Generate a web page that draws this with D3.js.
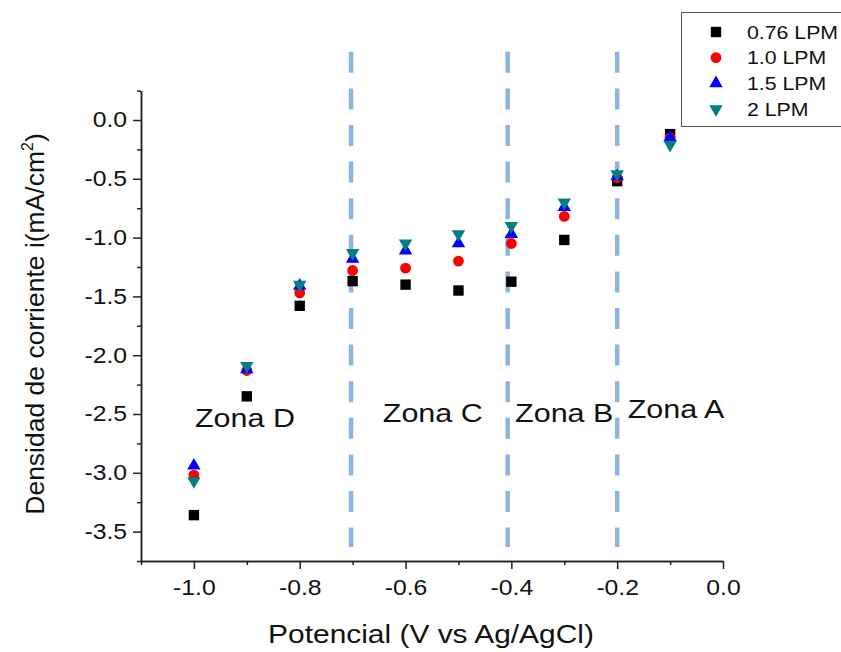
<!DOCTYPE html>
<html>
<head>
<meta charset="utf-8">
<script src="https://cdn.jsdelivr.net/npm/d3@7/dist/d3.min.js"></script>
<style>
  html, body { margin: 0; padding: 0; background: #fff; }
  svg { display: block; font-family: "Liberation Sans", Arial, sans-serif; }
</style>
</head>
<body>
<svg id="chart" width="841" height="652"></svg>
<script>
// Applied potential (V vs Ag/AgCl)
const potentials = [-1.0, -0.9, -0.8, -0.7, -0.6, -0.5, -0.4, -0.3, -0.2, -0.1];

// Current density (mA/cm²) for each gas flow rate
const flow076 = [-3.36, -2.35, -1.58, -1.37, -1.40, -1.45, -1.375, -1.02, -0.52, -0.12];
const flow10  = [-3.02, -2.13, -1.47, -1.28, -1.26, -1.20, -1.05, -0.82, -0.49, -0.15];
const flow15  = [-2.94, -2.12, -1.41, -1.18, -1.11, -1.05, -0.97, -0.74, -0.48, -0.15];
const flow20  = [-3.07, -2.09, -1.40, -1.13, -1.05, -0.97, -0.90, -0.70, -0.46, -0.21];

const seriesNames = ["0.76 LPM", "1.0 LPM", "1.5 LPM", "2 LPM"];

// Axis ticks
const xMajorTicks = [-1.0, -0.8, -0.6, -0.4, -0.2, 0.0];
const xMinorTicks = [-1.1, -0.9, -0.7, -0.5, -0.3, -0.1];
const yMajorTicks = [0.0, -0.5, -1.0, -1.5, -2.0, -2.5, -3.0, -3.5];
const yMinorTicks = [0.25, -0.25, -0.75, -1.25, -1.75, -2.25, -2.75, -3.25, -3.75];

// Zone boundaries and zone labels
const zoneBounds = [-0.703, -0.407, -0.2];
const zoneNames = ["Zona D", "Zona C", "Zona B", "Zona A"];
const zoneLabelX = [-0.998, -0.643, -0.393, -0.18];
const zoneLabelY = [-2.61, -2.57, -2.57, -2.53];

const svg = d3.select("#chart");
const stretch = 1.15;

function widen(sel, k) {
  sel.each(function () {
    const len = this.getComputedTextLength();
    d3.select(this).attr("textLength", len * k).attr("lengthAdjust", "spacingAndGlyphs");
  });
}

const x = d3.scaleLinear().domain([-1.1, 0]).range([141, 723]);
const y = d3.scaleLinear().domain([-3.75, 0.25]).range([561, 90.6]);

// Zone separators
svg.append("g").selectAll("line")
  .data(zoneBounds)
  .join("line")
  .attr("x1", d => x(d)).attr("x2", d => x(d))
  .attr("y1", y(0.58)).attr("y2", y(-3.63))
  .attr("stroke", "#8db3e2")
  .attr("stroke-width", 4.5)
  .attr("stroke-dasharray", "21,15.6");

// Axes
const fmt = v => v.toFixed(1);
const axisColor = "#222";

const gx = svg.append("g").attr("transform", `translate(0,${y(-3.75)})`);
gx.call(d3.axisBottom(x).tickValues(xMajorTicks).tickFormat(fmt).tickSize(8).tickSizeOuter(0).tickPadding(6));
gx.append("g").call(d3.axisBottom(x).tickValues(xMinorTicks).tickFormat("").tickSize(4).tickSizeOuter(0));

const gy = svg.append("g").attr("transform", `translate(${x(-1.1)},0)`);
gy.call(d3.axisLeft(y).tickValues(yMajorTicks).tickFormat(fmt).tickSize(8).tickSizeOuter(0).tickPadding(6));
gy.append("g").call(d3.axisLeft(y).tickValues(yMinorTicks).tickFormat("").tickSize(4).tickSizeOuter(0));

svg.selectAll(".domain").attr("stroke", axisColor).attr("stroke-width", 1.5);
svg.selectAll(".tick line").attr("stroke", axisColor).attr("stroke-width", 1.5);
svg.selectAll(".tick text")
  .attr("font-family", "'Liberation Sans', Arial, sans-serif")
  .attr("font-size", 21.5)
  .attr("fill", "#111");
gx.selectAll(".tick text").attr("dy", "0.95em");
widen(svg.selectAll(".tick text"), stretch);

// Axis titles
const xt = svg.append("text")
  .attr("x", 431).attr("y", 643)
  .attr("text-anchor", "middle")
  .attr("font-size", 26)
  .attr("fill", "#111")
  .text("Potencial (V vs Ag/AgCl)");
widen(xt, stretch);

const yt = svg.append("text")
  .attr("transform", "translate(44,324) rotate(-90)")
  .attr("text-anchor", "middle")
  .attr("font-size", 26.5)
  .attr("fill", "#111");
yt.append("tspan").text("Densidad de corriente i(mA/cm");
yt.append("tspan").attr("font-size", 16).attr("dy", -11).text("2");
yt.append("tspan").attr("dy", 11).text(")");

// Markers
const markers = [
  { values: flow076, color: "#000000", shape: d3.symbolSquare, size: 108, rot: 0 },
  { values: flow10,  color: "#ff0000", shape: d3.symbolCircle, size: 92,  rot: 0 },
  { values: flow15,  color: "#0000ff", shape: d3.symbolTriangle, size: 78, rot: 0 },
  { values: flow20,  color: "#008080", shape: d3.symbolTriangle, size: 78, rot: 180 }
];

markers.forEach(m => {
  const sym = d3.symbol().type(m.shape).size(m.size);
  svg.append("g").selectAll("path")
    .data(potentials.map((p, i) => [p, m.values[i]]))
    .join("path")
    .attr("d", sym)
    .attr("transform", d => `translate(${x(d[0])},${y(d[1])}) rotate(${m.rot})`)
    .attr("fill", m.color);
});

// Zone labels
svg.append("g").selectAll("text")
  .data(zoneNames)
  .join("text")
  .attr("x", (d, i) => x(zoneLabelX[i]))
  .attr("y", (d, i) => y(zoneLabelY[i]))
  .attr("font-size", 26.5)
  .attr("fill", "#111")
  .text(d => d)
  .call(widen, stretch);

// Legend
const legend = svg.append("g");
legend.append("rect")
  .attr("x", 681.5).attr("y", 12.5)
  .attr("width", 170).attr("height", 114)
  .attr("fill", "#fff")
  .attr("stroke", "#555")
  .attr("stroke-width", 1);

const rowY = d3.scaleLinear().domain([0, 3]).range([32, 109]);
markers.forEach((m, i) => {
  legend.append("path")
    .attr("d", d3.symbol().type(m.shape).size(m.size)())
    .attr("transform", `translate(716,${rowY(i)}) rotate(${m.rot})`)
    .attr("fill", m.color);
  const t = legend.append("text")
    .attr("x", 747).attr("y", rowY(i))
    .attr("dy", "0.36em")
    .attr("font-size", 18.5)
    .attr("fill", "#111")
    .text(seriesNames[i]);
  widen(t, 1.15);
});
</script>
</body>
</html>
